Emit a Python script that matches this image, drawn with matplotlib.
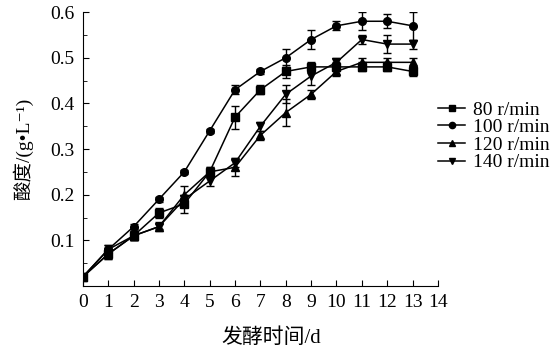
import numpy as np
import matplotlib
matplotlib.use("Agg")
import matplotlib.pyplot as plt
from matplotlib.ticker import MultipleLocator
from matplotlib.lines import Line2D

# ─── Dane ──────────────────────────────────────────
days = list(range(14))
labels = ["80 r/min", "100 r/min", "120 r/min", "140 r/min"]
markers = ["s", "o", "^", "v"]

acid_80 = [0.02, 0.07, 0.11, 0.16, 0.18, 0.25, 0.37, 0.43, 0.47, 0.48, 0.48, 0.48, 0.48, 0.47]
acid_100 = [0.02, 0.08, 0.13, 0.19, 0.25, 0.34, 0.43, 0.47, 0.50, 0.54, 0.57, 0.58, 0.58, 0.57]
acid_120 = [0.02, 0.08, 0.11, 0.13, 0.20, 0.25, 0.26, 0.33, 0.38, 0.42, 0.47, 0.49, 0.49, 0.49]
acid_140 = [0.02, 0.07, 0.11, 0.13, 0.19, 0.23, 0.27, 0.35, 0.42, 0.46, 0.49, 0.54, 0.53, 0.53]

err_80 = [0.005, 0.01, 0.01, 0.01, 0.02, 0.01, 0.025, 0.01, 0.015, 0.01, 0.01, 0.01, 0.01, 0.01]
err_100 = [0.005, 0.01, 0.005, 0.005, 0.005, 0.005, 0.01, 0.005, 0.02, 0.02, 0.01, 0.02, 0.015, 0.03]
err_120 = [0.005, 0.01, 0.01, 0.01, 0.02, 0.01, 0.02, 0.01, 0.03, 0.01, 0.01, 0.01, 0.01, 0.01]
err_140 = [0.005, 0.01, 0.01, 0.005, 0.01, 0.01, 0.01, 0.01, 0.02, 0.02, 0.01, 0.01, 0.02, 0.01]

series = [acid_80, acid_100, acid_120, acid_140]
errors = [err_80, err_100, err_120, err_140]

FONTS = ["Liberation Serif", "Noto Sans CJK SC", "DejaVu Serif"]
plt.rcParams["font.family"] = FONTS

fig = plt.figure(figsize=(5.6, 3.57), dpi=100)
ax = fig.add_axes([0.148, 0.199, 0.634, 0.767])

handles = []
for vals, errs, m, lab in zip(series, errors, markers, labels):
    ax.errorbar(days, vals, yerr=errs, color="black", marker=m, markersize=5.5,
                linewidth=1.1, elinewidth=1.0, capsize=3, capthick=1.0)
    handles.append(Line2D([], [], color="black", marker=m, markersize=4.5, linewidth=1.1))

ax.set_xlim(0, 14)
ax.set_ylim(0, 0.6)
ax.set_xticks(range(15))
ax.set_yticks([0.1, 0.2, 0.3, 0.4, 0.5, 0.6])
ax.yaxis.set_minor_locator(MultipleLocator(0.05))
ax.tick_params(axis="both", which="both", direction="in", labelsize=14, pad=6)
ax.tick_params(axis="y", which="major", length=4)
ax.tick_params(axis="y", which="minor", length=3)
ax.tick_params(axis="x", which="major", length=4)
ax.spines["top"].set_visible(False)
ax.spines["right"].set_visible(False)

ax.set_xlabel("发酵时间/d", fontsize=15, labelpad=12)
ax.xaxis.label.set_x(0.53)
ax.set_ylabel("酸度/(g•L⁻¹)", fontsize=14, labelpad=12)

fig.legend(handles=handles, labels=labels, loc="upper left",
           bbox_to_anchor=(0.782, 0.717), frameon=False, fontsize=14,
           handlelength=1.4, handletextpad=0.4, labelspacing=0.0,
           borderaxespad=0, borderpad=0)

fig.savefig("out.png", dpi=100)
